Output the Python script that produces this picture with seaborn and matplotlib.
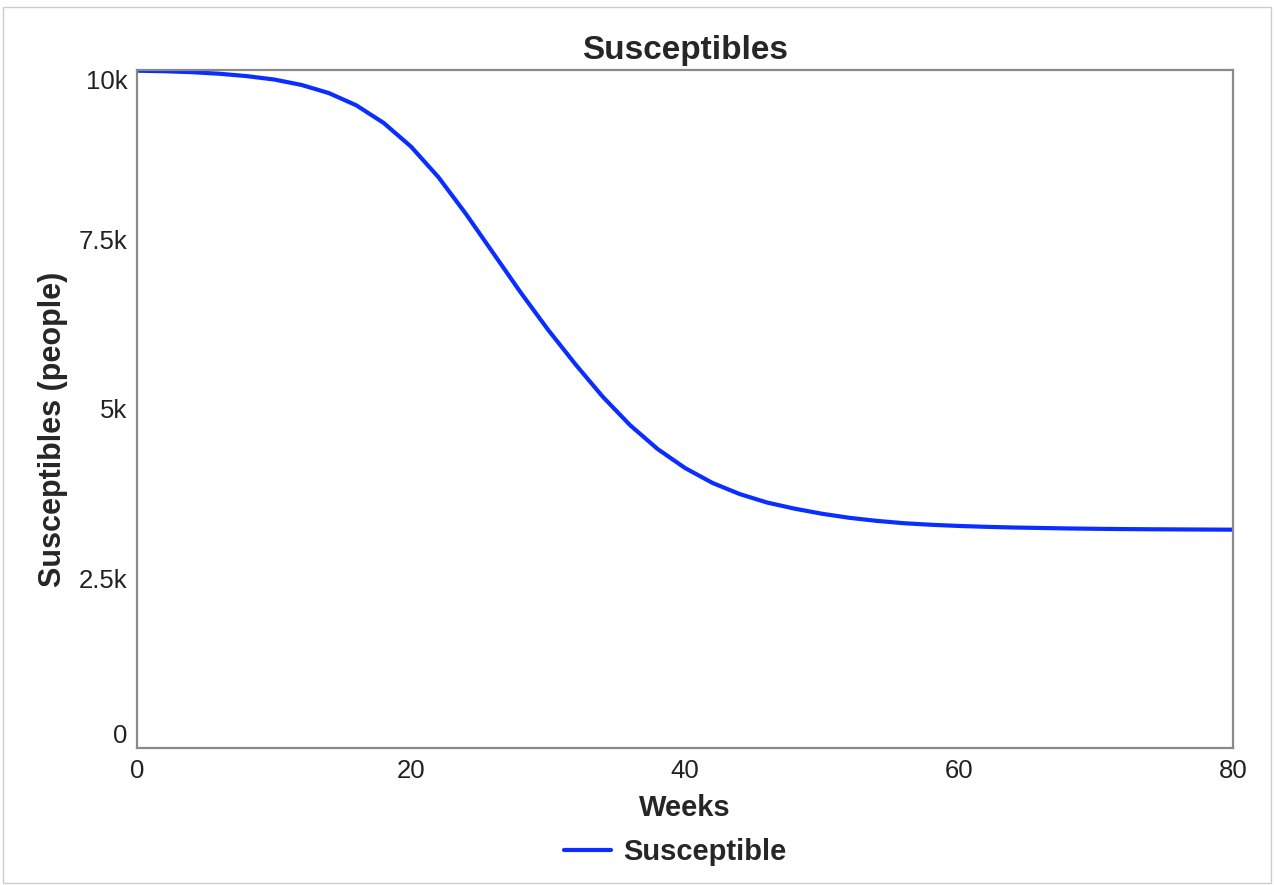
import matplotlib
matplotlib.use("Agg")
import matplotlib.pyplot as plt
import seaborn as sns
import pandas as pd
from matplotlib.patches import Rectangle

# values (every 2 weeks)
weeks = [0, 2, 4, 6, 8, 10, 12, 14, 16, 18, 20, 22, 24, 26, 28, 30, 32, 34, 36, 38, 40,
         42, 44, 46, 48, 50, 52, 54, 56, 58, 60, 62, 64, 66, 68, 70, 72, 74, 76, 78, 80]
susceptible = [9990, 9982, 9968, 9945, 9910, 9860, 9780, 9660, 9480, 9220, 8870,
               8420, 7880, 7300, 6720, 6170, 5660, 5180, 4760, 4410, 4130,
               3910, 3745, 3620, 3530, 3455, 3395, 3350, 3315, 3292, 3275,
               3262, 3252, 3245, 3238, 3233, 3229, 3226, 3224, 3222, 3220]
y_ticks = [0, 2500, 5000, 7500, 10000]
y_tick_labels = ["0", "2.5k", "5k", "7.5k", "10k"]
x_ticks = [0, 20, 40, 60, 80]

df = pd.DataFrame({"Weeks": weeks, "Susceptible": susceptible})

sns.set_style("white")
plt.rcParams["font.family"] = ["Liberation Sans", "DejaVu Sans"]

fig = plt.figure(figsize=(12.74, 8.85), dpi=100)
ax = fig.add_axes([137 / 1274, 1 - 748 / 885, (1233 - 137) / 1274, (748 - 70) / 885])

sns.lineplot(data=df, x="Weeks", y="Susceptible", ax=ax, color="#0a2eff",
             linewidth=3.0, label="Susceptible", legend=False,
             solid_joinstyle="round")

ax.set_xlim(0, 80)
ax.set_ylim(0, 10000)
ax.set_xticks(x_ticks)
ax.set_yticks(y_ticks)
ax.set_yticklabels(y_tick_labels)
ax.tick_params(axis="both", length=0, labelsize=18.5, colors="#222222")
ax.tick_params(axis="x", pad=8)
ax.tick_params(axis="y", pad=7)
ylabs = ax.get_yticklabels()
ylabs[0].set_va("bottom")
ylabs[-1].set_va("top")

for s in ax.spines.values():
    s.set_visible(True)
    s.set_color("#8a8a8a")
    s.set_linewidth(1.6)

ax.set_title("Susceptibles", fontsize=24, fontweight="bold", pad=8)
ax.set_xlabel("Weeks", fontsize=21, fontweight="bold", labelpad=8)
ax.set_ylabel("Susceptibles (people)", fontsize=22, fontweight="bold")
ax.yaxis.set_label_coords(-0.063, 0.47)

fig.legend(loc="center", bbox_to_anchor=(0.53, 1 - 852 / 885), frameon=False,
           prop={"size": 21, "weight": "bold"}, handlelength=1.6, handletextpad=0.4)

# light frame around the whole picture
fig.patches.append(Rectangle((0.002, 0.002), 0.996, 0.99, transform=fig.transFigure,
                             fill=False, edgecolor="#cccccc", linewidth=1))

fig.savefig("out.png", dpi=100)
